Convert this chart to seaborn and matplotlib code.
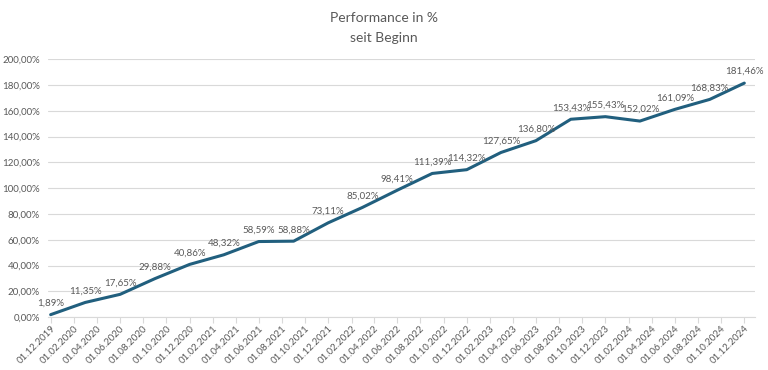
import matplotlib
matplotlib.use("Agg")
import matplotlib.pyplot as plt
import matplotlib.dates as mdates
import matplotlib.ticker as mticker
import pandas as pd
import seaborn as sns

# DATA (quarterly, performance since start in %)
dates = ["2019-12-01", "2020-03-01", "2020-06-01", "2020-09-01", "2020-12-01",
         "2021-03-01", "2021-06-01", "2021-09-01", "2021-12-01", "2022-03-01",
         "2022-06-01", "2022-09-01", "2022-12-01", "2023-03-01", "2023-06-01",
         "2023-09-01", "2023-12-01", "2024-03-01", "2024-06-01", "2024-09-01",
         "2024-12-01"]
performance = [1.89, 11.35, 17.65, 29.88, 40.86, 48.32, 58.59, 58.88, 73.11, 85.02,
               98.41, 111.39, 114.32, 127.65, 136.80, 153.43, 155.43, 152.02, 161.09,
               168.83, 181.46]
title_lines = ["Performance in %", "seit Beginn"]

df = pd.DataFrame({"Datum": pd.to_datetime(dates), "Performance": performance})

sns.set_theme(style="white")
plt.rcParams['font.family'] = ['Lato', 'DejaVu Sans']

fig = plt.figure(figsize=(7.68, 3.70), dpi=100)
ax = fig.add_axes([0.0625, 0.143, 0.920, 0.697])

sns.lineplot(data=df, x="Datum", y="Performance", ax=ax, color="#215F7E", linewidth=2.2)

# data labels
for d, v in zip(df["Datum"], df["Performance"]):
    lbl = f"{v:.2f}".replace(".", ",") + "%"
    ax.annotate(lbl, (d, v), xytext=(0, 5), textcoords="offset points",
                ha="center", va="bottom", fontsize=7, color="#595959")

# axes
ax.set_ylim(0, 200)
ax.yaxis.set_major_locator(mticker.MultipleLocator(20))
ax.yaxis.set_major_formatter(mticker.FuncFormatter(lambda v, p: f"{v:.2f}".replace(".", ",") + "%"))
ax.set_xlim(pd.Timestamp("2019-11-24"), pd.Timestamp("2024-12-28"))
ax.xaxis.set_major_locator(mdates.MonthLocator(bymonth=[2, 4, 6, 8, 10, 12]))
ax.xaxis.set_major_formatter(mdates.DateFormatter("%d.%m.%Y"))
ax.set_xlabel("")
ax.set_ylabel("")

ax.grid(axis="y", color="#D9D9D9", linewidth=0.8)
ax.set_axisbelow(True)
for s in ["top", "right", "left"]:
    ax.spines[s].set_visible(False)
ax.spines["bottom"].set_color("#D9D9D9")
ax.spines["bottom"].set_linewidth(0.8)

ax.tick_params(axis="y", length=0, labelsize=7, labelcolor="#595959", pad=6)
ax.tick_params(axis="x", length=4, width=0.8, color="#D9D9D9", labelsize=7,
               labelcolor="#595959", pad=1, bottom=True)
for t in ax.get_xticklabels():
    t.set_rotation(45)
    t.set_ha("right")
    t.set_rotation_mode("anchor")

fig.text(0.5, 0.952, title_lines[0], ha="center", va="center", fontsize=10, color="#595959")
fig.text(0.5, 0.897, title_lines[1], ha="center", va="center", fontsize=10, color="#595959")

fig.savefig("out.png", dpi=100)
